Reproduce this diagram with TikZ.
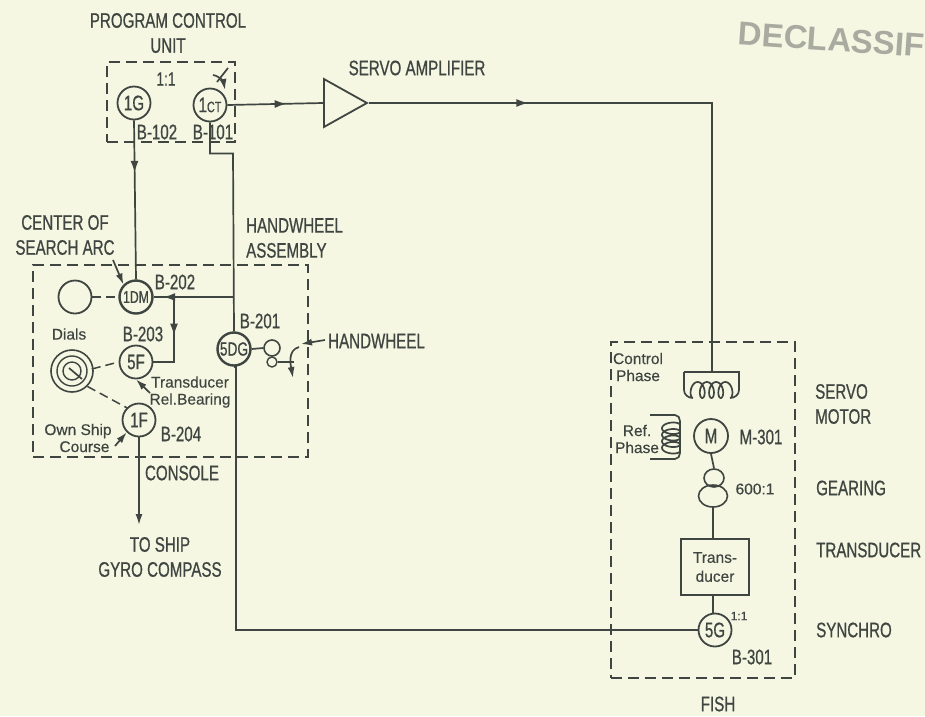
\documentclass[tikz,border=0pt]{standalone}
\usepackage{fontspec}
\setmainfont{Liberation Sans}
\newfontfamily\narrowfont[FakeStretch=0.72,FakeBold=0.7]{Liberation Sans}
\newfontfamily\notefont[FakeBold=0.3]{Liberation Sans}
\usetikzlibrary{positioning,arrows.meta,calc,shapes.geometric,decorations.markings}
\definecolor{paper}{HTML}{F5F7E3}
\definecolor{ink}{HTML}{3F4541}
\definecolor{stamp}{HTML}{A9ABA0}

\begin{document}
\begin{tikzpicture}[
  x=1pt, y=-1pt,
  lbl/.style={font=\narrowfont\fontsize{21}{25}\selectfont, text=ink, align=center, inner sep=0pt},
  lblleft/.style={lbl, align=left},
  note/.style={font=\notefont\fontsize{15.5}{17}\selectfont, text=ink, align=center, inner sep=0pt},
  syn/.style={
    circle, draw=ink, line width=1.8pt,
    minimum size=33pt, inner sep=0pt, text=ink,
    font=\narrowfont\fontsize{21}{21}\selectfont
  },
  box/.style={rectangle, draw=ink, line width=1.6pt, dash pattern=on 11pt off 6pt},
  wire/.style={draw=ink, line width=1.7pt},
  link/.style={draw=ink, line width=1.5pt, dash pattern=on 9pt off 5pt},
  arr/.style={wire, -{Latex[length=11pt,width=7pt]}},
  midarr/.style={
    wire, postaction={decorate},
    decoration={markings, mark=at position #1 with {\arrow{Latex[length=12pt,width=8pt]}}}
  }
]

\path[use as bounding box, fill=paper] (0,0) rectangle (925,716);

% stamp
\node[rotate=-4, text=stamp, font=\bfseries\fontsize{33}{33}\selectfont, inner sep=0pt, anchor=west] (stampmark) at (738,33) {DECLASSIF};

% dashed boxes
\node[box, minimum width=128pt, minimum height=80pt] (pcu) at (171,102) {};
\node[box, minimum width=275pt, minimum height=192pt] (console) at (170.5,361) {};
\node[box, minimum width=184pt, minimum height=336pt] (fish) at (703,510) {};

% program control unit
\node[lbl] (pcutitle) at (168,33) {PROGRAM CONTROL\\UNIT};
\node[lbl, font=\narrowfont\fontsize{19}{19}\selectfont] (pcuratio) at (166,79) {1:1};
\node[syn] (ig) at (134,103) {1G};
\node[syn] (ict) at (210,105) {1{\fontsize{15}{15}\selectfont CT}};
\node[lbl] (bonetwo) at (157,132) {B-102};
\node[lbl] (boneone) at (213,132) {B-101};

% servo amplifier
\node[isosceles triangle, isosceles triangle stretches, draw=ink, line width=1.8pt,
  minimum height=43pt, minimum width=48pt, inner sep=0pt] (amp) at (338,103) {};
\node[lbl] (amptitle) at (417,68) {SERVO AMPLIFIER};

% console
\node[lbl] (centerarc) at (65,235) {CENTER OF\\SEARCH ARC};
\node[lblleft, anchor=west] (hwassy) at (246,238) {HANDWHEEL\\ASSEMBLY};
\node[syn] (blank) at (75,297) {};
\node[syn, line width=2.4pt, font=\narrowfont\fontsize{17}{17}\selectfont] (idm) at (136,297) {1DM};
\node[lbl] (btwotwo) at (175,282) {B-202};
\node[lbl] (btwothree) at (143,334) {B-203};
\node[syn] (sf) at (136,362) {5F};
\node[syn] (of) at (139,420) {1F};
\node[lbl] (btwofour) at (181,434) {B-204};
\node[syn, line width=2.4pt, font=\narrowfont\fontsize{19}{19}\selectfont] (sdg) at (234,349) {5DG};
\node[lbl] (btwoone) at (260,321) {B-201};
\node[note] (dialtext) at (69,334) {Dials};
\node[circle, draw=ink, line width=1.6pt, minimum size=42pt, inner sep=0pt] (dials) at (72,371) {};
\node[circle, draw=ink, line width=1.4pt, minimum size=30pt, inner sep=0pt] (dialmid) at (72,371) {};
\node[circle, draw=ink, line width=1.4pt, minimum size=18pt, inner sep=0pt] (dialin) at (72,371) {};
\draw[wire] (dials.center) ++(-3,-3) -- ++(13,11);
\node[note] (reltext) at (190,392) {Transducer\\Rel.Bearing};
\node[note] (owntext) at (78,438) {Own Ship\\\ \ \ Course};
\node[lbl] (consoletext) at (182,473) {CONSOLE};
\node[lbl] (gyrotext) at (160,557) {TO SHIP\\GYRO COMPASS};
\coordinate (gyroend) at (139,525);

% handwheel
\node[circle, draw=ink, line width=1.6pt, minimum size=16pt, inner sep=0pt] (gearbig) at (272,348) {};
\node[circle, draw=ink, line width=1.4pt, minimum size=10pt, inner sep=0pt] (gearsmall) at (272,362) {};
\coordinate (shaftend) at (294,362);
\coordinate (turnstart) at (299,347);
\coordinate (turnend) at (293,378);
\coordinate (hwpoint) at (301,344);
\node[lblleft, anchor=west] (hwtext) at (328,341) {HANDWHEEL};

% fish
\node[note] (cphase) at (638,367) {Control\\Phase};
\node[note] (rphase) at (637,439) {Ref.\\Phase};
\coordinate (cptop) at (712,372);
\coordinate (cpleft) at (684,372);
\coordinate (cpright) at (739,372);
\node[syn, minimum size=34pt] (motor) at (711,436) {M};
\node[lbl] (mthree) at (761,437) {M-301};
\node[ellipse, draw=ink, line width=1.6pt, minimum width=20pt, minimum height=18pt, inner sep=0pt] (gsmall) at (714,478) {};
\node[ellipse, draw=ink, line width=1.6pt, minimum width=29pt, minimum height=22pt, inner sep=0pt] (gbig) at (713,496) {};
\node[note] (ratio) at (755,489) {600:1};
\node[rectangle, draw=ink, line width=1.8pt, minimum width=68pt, minimum height=56pt, font=\notefont\fontsize{15.5}{19}\selectfont, text=ink, align=center, inner sep=0pt] (trans) at (715,567) {Trans-\\ducer};
\node[syn] (sg) at (715,630) {5G};
\node[note, font=\notefont\fontsize{12}{12}\selectfont] (sgratio) at (739,616) {1:1};
\node[lbl] (bthree) at (752,657) {B-301};
\node[lbl] (fishtext) at (718,704) {FISH};

\node[lblleft, anchor=west] (motortext) at (815,404) {SERVO\\MOTOR};
\node[lblleft, anchor=west] (geartext) at (816,488) {GEARING};
\node[lblleft, anchor=west] (transtext) at (816,550) {TRANSDUCER};
\node[lblleft, anchor=west] (synctext) at (816,630) {SYNCHRO};

% coils
\draw[wire] (cpleft) -- (cpright) -- ++(0,18) to[out=270,in=0] (730,398)
  -- plot[domain=1440:0, samples=145, smooth] ({693+\x/1440*37-4.5*sin(\x)},{390+8*cos(\x)})
  to[out=180,in=270] (684,390) -- (cpleft);
\draw[wire] (650,415) -- (675,415) to[out=0,in=90] (680,421) -- (680,453) to[out=270,in=0] (675,459) -- (650,459);
\draw[wire] plot[domain=0:1440, samples=145, smooth] ({671+9*cos(\x)},{451-\x/1440*26+4*sin(\x)});

% connectors
\draw[midarr=0.62] (ict.east) -- (amp.west);
\draw[midarr=0.26] (amp.apex) -| (cptop);
\draw[midarr=0.33] (ig.south) -- (idm.north);
\draw[wire] (ict.south) -- ++(0,31) -- ++(23,0) -- (sdg.north);
\coordinate (jmain) at (233,297);
\coordinate (jbranch) at (174,297);
\draw[midarr=0.88] (jmain) -- (idm.east);
\draw[midarr=0.45] (jbranch) |- (sf.east);
\draw[wire] (sdg.south) -- ++(2,0) |- (sg.west);
\draw[arr] (of.south) -- (gyroend);
\draw[link] (blank.east) -- (idm.west);
\draw[link] (dials.east) ++(-2,-2) -- (sf.west);
\draw[link] (dials.south east) -- (of.north west);

% mechanical shafts
\draw[wire] (sdg.east) -- (gearbig.west);
\draw[wire] (gearsmall.east) -- (shaftend);
\draw[arr] (turnstart) to[out=195,in=100] (turnend);
\draw[arr] (hwtext.west) ++(-3,-1) -- (hwpoint);
\draw[wire] (motor.south) -- (gsmall.north);
\draw[wire] (gbig.south) -- (trans.north -| gbig.south);
\draw[wire] (trans.south -| gbig.south) -- (sg.north -| gbig.south);

% pointers
\draw[wire] (228,68) -- (217,82);
\draw[arr] (213,75) to[out=-10,in=100] (225,90);
\draw[arr] (113,260) -- (idm.north west);
\draw[arr] (150,393) -- (sf.south);
\draw[arr] (115,446) -- (of.south west);

\end{tikzpicture}
\end{document}
